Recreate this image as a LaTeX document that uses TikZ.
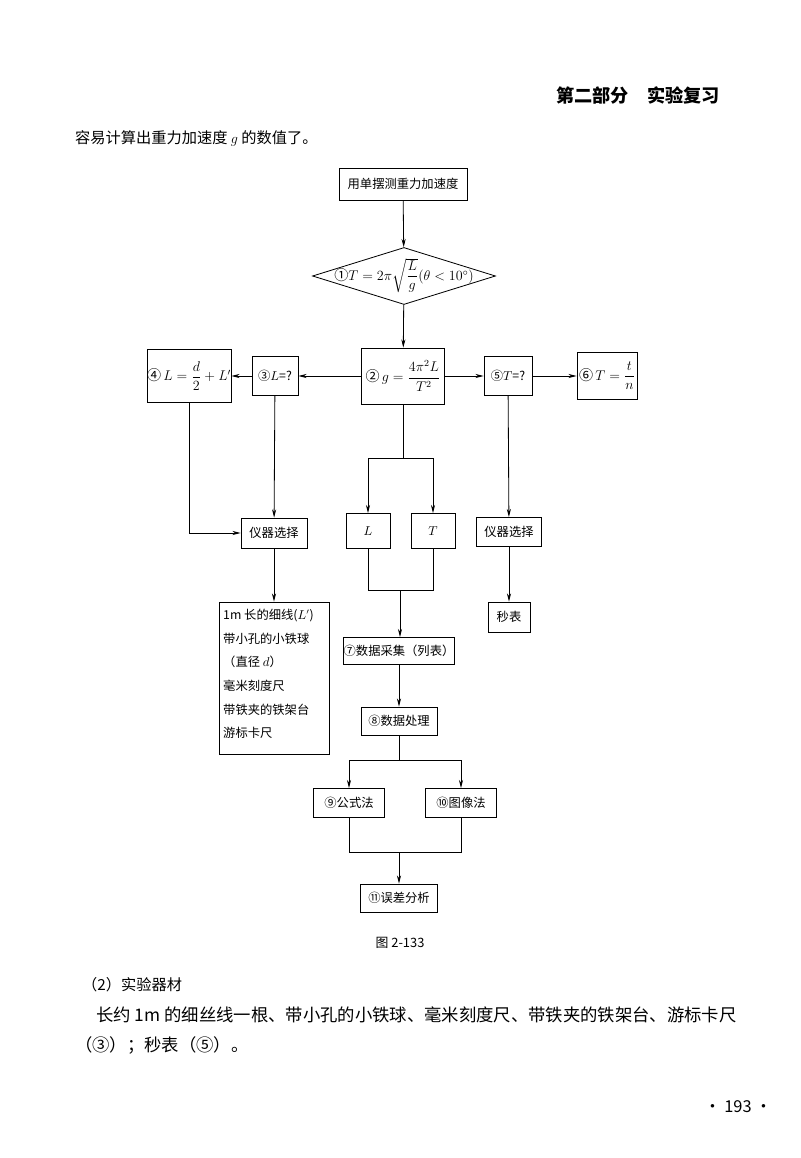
\documentclass[tikz,border=0pt]{standalone}
\usepackage{fontspec}
\setmainfont{Noto Sans CJK SC}
\usepackage{amsmath}
\usetikzlibrary{shapes.geometric,arrows.meta}
\begin{document}
\begin{tikzpicture}[x=0.03cm,y=-0.03cm,
  every node/.style={font=\fontsize{10.5}{12}\selectfont},
  mth/.style={font=\fontsize{12}{14}\selectfont},
  box/.style={draw,line width=0.7pt,inner sep=0pt,align=center},
  ln/.style={line width=0.7pt},
  ar/.style={ln,-{Stealth[length=7pt,width=3.5pt]}},
  txt/.style={anchor=west,inner sep=0pt,font=\fontsize{13}{15}\selectfont}]
\useasboundingbox (0,0) rectangle (800,1158);
\node[inner sep=0pt,font=\fontsize{15.5}{18}\selectfont\bfseries] (hdr) at (638,95) {第二部分\quad 实验复习};
\node[txt] (intro) at (75,138) {容易计算出重力加速度 $g$ 的数值了。};
% boxes
\node[box,minimum width=128*0.03cm,minimum height=32*0.03cm] (top) at (403,184) {用单摆测重力加速度};
\node[draw,line width=0.7pt,diamond,aspect=3.2,inner sep=0pt,minimum width=183*0.03cm,minimum height=57*0.03cm] (d1) at (404,276) {};
\node[inner sep=0pt,mth] (d1t) at (404,276) {①$T=2\pi\sqrt{\dfrac{L}{g}}(\theta<10^\circ)$};
\node[box,mth,minimum width=83*0.03cm,minimum height=56*0.03cm] (g) at (403,376) {②\,$g=\dfrac{4\pi^2L}{T^2}$};
\node[box,minimum width=46*0.03cm,minimum height=39*0.03cm] (l3) at (275,376) {③$L$=?};
\node[box,mth,minimum width=84*0.03cm,minimum height=53*0.03cm] (l4) at (189,376) {④\,$L=\dfrac{d}{2}+L'$};
\node[box,minimum width=48*0.03cm,minimum height=39*0.03cm] (t5) at (508,376) {⑤$T$=?};
\node[box,mth,minimum width=60*0.03cm,minimum height=47*0.03cm] (t6) at (607,376) {⑥\,$T=\dfrac{t}{n}$};
\node[box,minimum width=44*0.03cm,minimum height=35*0.03cm] (L) at (368,531) {$L$};
\node[box,minimum width=44*0.03cm,minimum height=35*0.03cm] (T) at (433,531) {$T$};
\node[box,minimum width=66*0.03cm,minimum height=30*0.03cm] (yq1) at (274,533) {仪器选择};
\node[box,minimum width=65*0.03cm,minimum height=29*0.03cm] (yq2) at (509,532) {仪器选择};
\node[box,minimum width=42*0.03cm,minimum height=30*0.03cm] (mb) at (509,617) {秒表};
\node[box,minimum width=110*0.03cm,minimum height=152*0.03cm] (mat) at (274,678) {};
\node[anchor=north west,inner sep=0pt,align=left,font=\fontsize{10.5}{20.2}\selectfont] (matt) at (223,609)
 {1m 长的细线($L'$)\\带小孔的小铁球\\（直径 $d$）\\毫米刻度尺\\带铁夹的铁架台\\游标卡尺};
\node[box,minimum width=110*0.03cm,minimum height=27*0.03cm] (s7) at (399,651) {⑦数据采集（列表）};
\node[box,minimum width=76*0.03cm,minimum height=28*0.03cm] (s8) at (399,721) {⑧数据处理};
\node[box,minimum width=71*0.03cm,minimum height=29*0.03cm] (s9) at (349,803) {⑨公式法};
\node[box,minimum width=71*0.03cm,minimum height=29*0.03cm] (s10) at (461,803) {⑩图像法};
\node[box,minimum width=77*0.03cm,minimum height=28*0.03cm] (s11) at (399,898) {⑪误差分析};
% junctions
\coordinate (j1) at (403,458);
\coordinate (j2) at (400,590);
\coordinate (j3) at (399,760);
\coordinate (j4) at (399,852);
\coordinate (c4) at (189,533);
% connectors
\draw[ar] (top) -- (d1);
\draw[ar] (d1) -- (g);
\draw[ar] (g) -- (l3);
\draw[ar] (l3) -- (l4);
\draw[ar] (g) -- (t5);
\draw[ar] (t5) -- (t6);
\draw[ln] (g) -- (j1);
\draw[ar] (j1) -| (L.north);
\draw[ar] (j1) -| (T.north);
\draw[ln] (L.south) |- (j2);
\draw[ln] (T.south) |- (j2);
\draw[ar] (j2) -- (j2 |- s7.north);
\draw[ar] (s7) -- (s8);
\draw[ln] (s8) -- (j3);
\draw[ar] (j3) -| (s9.north);
\draw[ar] (j3) -| (s10.north);
\draw[ln] (s9.south) |- (j4);
\draw[ln] (s10.south) |- (j4);
\draw[ar] (j4) -- (s11);
\draw[ar] (l3) -- (yq1);
\draw[ln] (l4.south) -- (c4);
\draw[ar] (c4) -- (yq1.west);
\draw[ar] (yq1) -- (mat);
\draw[ar] (t5) -- (yq2);
\draw[ar] (yq2) -- (mb);
% text below
\node[inner sep=0pt,font=\fontsize{11}{13}\selectfont] (cap) at (400,943) {图 2-133};
\node[txt] (p1) at (82,985) {（2）实验器材};
\node[txt,font=\fontsize{14.8}{17}\selectfont] (p2) at (96,1015) {长约 1m 的细丝线一根、带小孔的小铁球、毫米刻度尺、带铁夹的铁架台、游标卡尺};
\node[txt,font=\fontsize{14.8}{17}\selectfont] (p3) at (75,1045) {（③）；秒表（⑤）。};
\node[inner sep=0pt,font=\fontsize{14}{16}\selectfont] (pg) at (738,1107) {· 193 ·};
\end{tikzpicture}
\end{document}
